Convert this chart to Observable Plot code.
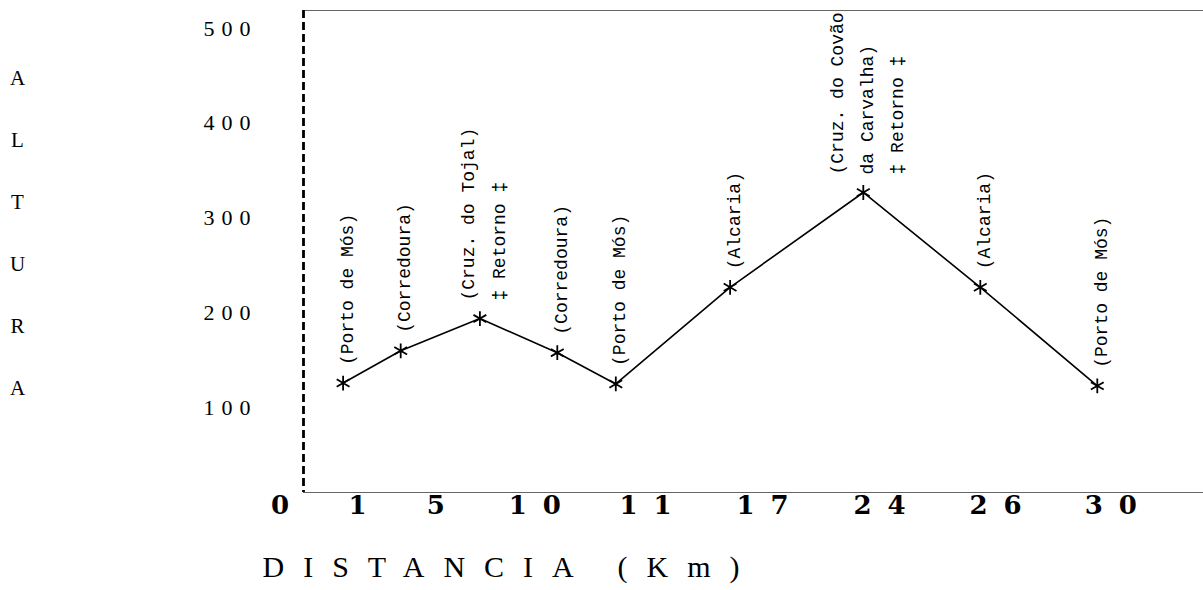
<!DOCTYPE html>
<html>
<head>
<meta charset="utf-8">
<script src="https://cdn.jsdelivr.net/npm/d3@7"></script>
<script src="https://cdn.jsdelivr.net/npm/@observablehq/plot@0.6"></script>
<style>
  html, body { margin: 0; padding: 0; background: #fff; }
  #chart svg { display: block; }
</style>
</head>
<body>
<div id="chart"></div>
<script>
// Stops along the route (labels printed above each point)
const stops = [
  "(Porto de Mós)",
  "(Corredoura)",
  "(Cruz. do Tojal)\n‡ Retorno ‡",
  "(Corredoura)",
  "(Porto de Mós)",
  "(Alcaria)",
  "(Cruz. do Covão\nda Carvalha)\n‡ Retorno ‡",
  "(Alcaria)",
  "(Porto de Mós)"
];
// Altitude (m)
const altitude = [126, 160, 194, 158, 125, 227, 327, 227, 123];
// Position of each point along the drawn distance axis (0–100 = axis length)
const axisPos = [4.4, 10.8, 19.6, 28.2, 34.7, 47.4, 62.2, 75.2, 88.2];
// Distance tick labels (km) and their position along the drawn axis
const kmLabels = ["0", "1", "5", "10", "11", "17", "24", "26", "30"];
const kmPos = [-2.6, 6.0, 14.7, 25.7, 38.0, 51.0, 64.0, 76.9, 89.7];
// Altitude ticks
const altTicks = [100, 200, 300, 400, 500];

const points = stops.map((name, i) => ({name, pos: axisPos[i], alt: altitude[i]}));
const ticks = kmLabels.map((label, i) => ({label, pos: kmPos[i]}));

const LS_X = 16, LS_Y = 7, LS_T = 19;

const plot = Plot.plot({
  width: 1203,
  height: 590,
  marginLeft: 303,
  marginRight: 0,
  marginTop: 10,
  marginBottom: 98,
  x: {domain: [0, 100], axis: null},
  y: {domain: [10.5, 519], axis: null},
  style: {background: "#fff", color: "#000"},
  marks: [
    Plot.ruleY([519], {stroke: "#666", strokeWidth: 1}),
    Plot.ruleY([10.5], {stroke: "#666", strokeWidth: 1}),
    Plot.ruleX([0], {stroke: "#000", strokeWidth: 2.8, strokeDasharray: "8,4"}),
    Plot.line(points, {x: "pos", y: "alt", stroke: "#000", strokeWidth: 1.6}),
    Plot.dot(points, {x: "pos", y: "alt", symbol: "asterisk", r: 7, stroke: "#000", strokeWidth: 1.8}),
    Plot.text(points, {
      x: "pos", y: "alt", text: "name",
      rotate: -90, textAnchor: "start", lineAnchor: "middle",
      dy: -18, lineHeight: 1.67,
      fontFamily: "Liberation Mono", fontSize: 18, fill: "#000"
    }),
    Plot.text(altTicks, {
      y: d => d, text: d => String(d),
      frameAnchor: "left", textAnchor: "end", dx: -46,
      fontFamily: "Liberation Serif", fontSize: 22, fill: "#000",
      ariaDescription: "yticks"
    }),
    Plot.text(ticks, {
      x: "pos", text: "label",
      frameAnchor: "bottom", textAnchor: "middle", dy: 21, dx: LS_X / 2,
      fontFamily: "DejaVu Serif", fontWeight: "bold", fontSize: 26, fill: "#000",
      ariaDescription: "xticks"
    }),
    Plot.text(["DISTANCIA (Km)"], {
      frameAnchor: "bottom-left", textAnchor: "start", dx: -41, dy: 84,
      fontFamily: "Liberation Serif", fontSize: 30, fill: "#000",
      ariaDescription: "xtitle"
    }),
    Plot.text(["A\nL\nT\nU\nR\nA"], {
      frameAnchor: "left", textAnchor: "middle", dx: -286, dy: -31,
      lineHeight: 2.95,
      fontFamily: "Liberation Serif", fontSize: 21, fill: "#000"
    })
  ]
});

d3.select(plot).selectAll('g[aria-description="xticks"] text').attr("letter-spacing", LS_X);
d3.select(plot).selectAll('g[aria-description="yticks"] text').attr("letter-spacing", LS_Y);
d3.select(plot).selectAll('g[aria-description="xtitle"] text').attr("letter-spacing", LS_T);

document.getElementById("chart").appendChild(plot);
</script>
</body>
</html>
